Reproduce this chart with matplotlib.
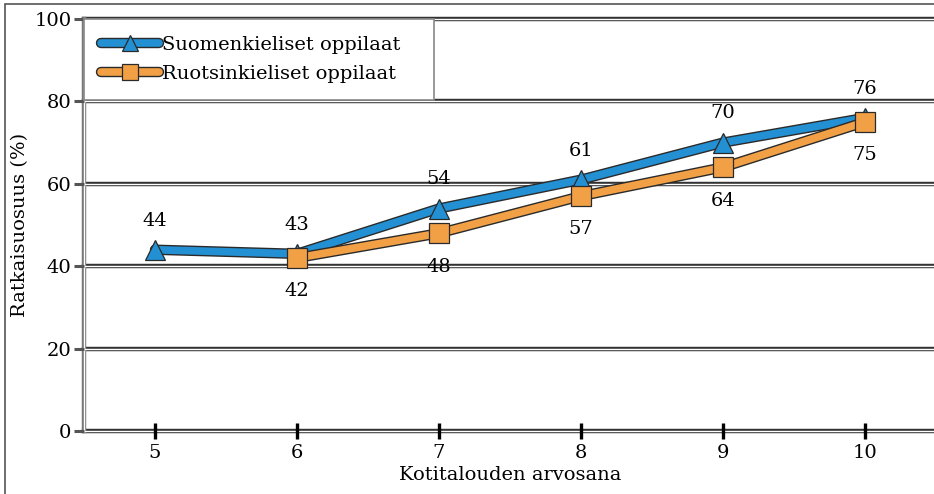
import matplotlib.pyplot as plt
import matplotlib.patheffects as pe
from matplotlib.patches import Rectangle
from matplotlib.lines import Line2D
import numpy as np

# Data
grades = [5, 6, 7, 8, 9, 10]
finnish = [44, 43, 54, 61, 70, 76]
swedish = [np.nan, 42, 48, 57, 64, 75]
series_names = ['Suomenkieliset oppilaat', 'Ruotsinkieliset oppilaat']
y_ticks = [0, 20, 40, 60, 80, 100]

blue = '#2290d2'
orange = '#f2a046'
edge = '#2a2a2a'
fs = 14

plt.rcParams['font.family'] = ['DejaVu Serif']

fig = plt.figure(figsize=(9.34, 4.94), dpi=100)
fig.patches.append(Rectangle((5 / 934, -0.1), 1.1, 1.1 - 4 / 494,
                             transform=fig.transFigure, fill=False,
                             edgecolor='#555555', linewidth=1.2))
ax = fig.add_axes([84 / 934, 63 / 494, 852 / 934, 412 / 494])
ax.set_xlim(4.5, 10.5)
ax.set_ylim(0, 100)
for s in ax.spines.values():
    s.set_visible(False)

# double-line grid
for y in y_ticks:
    ax.axhline(y, color='#333333', lw=3.2, zorder=1, clip_on=False)
    ax.axhline(y, color='white', lw=1.0, zorder=1.1, clip_on=False)
ax.plot([0, 0], [0, 1], transform=ax.transAxes, color='#777777', lw=3.2,
        clip_on=False, zorder=1)
ax.plot([0, 0], [0, 1], transform=ax.transAxes, color='white', lw=1.0,
        clip_on=False, zorder=1.1)

line_fx = [pe.Stroke(linewidth=7.5, foreground=edge), pe.Normal()]
ax.plot(grades, finnish, color=blue, lw=5.5, solid_capstyle='round',
        path_effects=line_fx, zorder=3)
ax.plot(grades, finnish, ls='none', marker='^', ms=15, markerfacecolor=blue,
        markeredgecolor=edge, markeredgewidth=0.9, zorder=3.5)
ax.plot(grades, swedish, color=orange, lw=5.5, solid_capstyle='round',
        path_effects=line_fx, zorder=4)
ax.plot(grades, swedish, ls='none', marker='s', ms=14, markerfacecolor=orange,
        markeredgecolor=edge, markeredgewidth=0.9, zorder=4.5)

for x, v in zip(grades, finnish):
    ax.annotate(f'{v}', (x, v), xytext=(0, 21), textcoords='offset points',
                ha='center', va='center', fontsize=fs)
for x, v in zip(grades, swedish):
    if not np.isnan(v):
        ax.annotate(f'{v:.0f}', (x, v), xytext=(0, -24), textcoords='offset points',
                    ha='center', va='center', fontsize=fs)

ax.set_xticks(grades)
ax.set_xticklabels([str(g) for g in grades], fontsize=fs)
ax.tick_params(axis='x', direction='inout', length=11, width=2.4, color='black', pad=4)
ax.set_yticks(y_ticks)
ax.set_yticklabels([str(t) for t in y_ticks], fontsize=fs)
ax.tick_params(axis='y', direction='out', length=7, width=2.2, color='#555555', pad=2)

ax.set_xlabel('Kotitalouden arvosana', fontsize=fs, labelpad=3)
ax.set_ylabel('Ratkaisuosuus (%)', fontsize=fs, labelpad=4)


def legend_handle(color, marker):
    ln = Line2D([], [], color=color, lw=5.5, solid_capstyle='round', path_effects=line_fx)
    mk = Line2D([], [], ls='none', marker=marker, ms=12, markerfacecolor=color,
                markeredgecolor=edge, markeredgewidth=0.9)
    return (ln, mk)


handles = [legend_handle(blue, '^'), legend_handle(orange, 's')]
leg = ax.legend(handles, series_names, loc='upper left',
                bbox_to_anchor=(0.0, 1 - 81 / 412, 350 / 852, 81 / 412), mode='expand',
                fontsize=fs, frameon=True, fancybox=False, borderaxespad=0,
                handlelength=3.0, handletextpad=0.15, borderpad=0.85, labelspacing=0.6,
                framealpha=1)
leg.get_frame().set_edgecolor('#888888')
leg.get_frame().set_linewidth(1.2)

fig.savefig('out.png', dpi=100)
